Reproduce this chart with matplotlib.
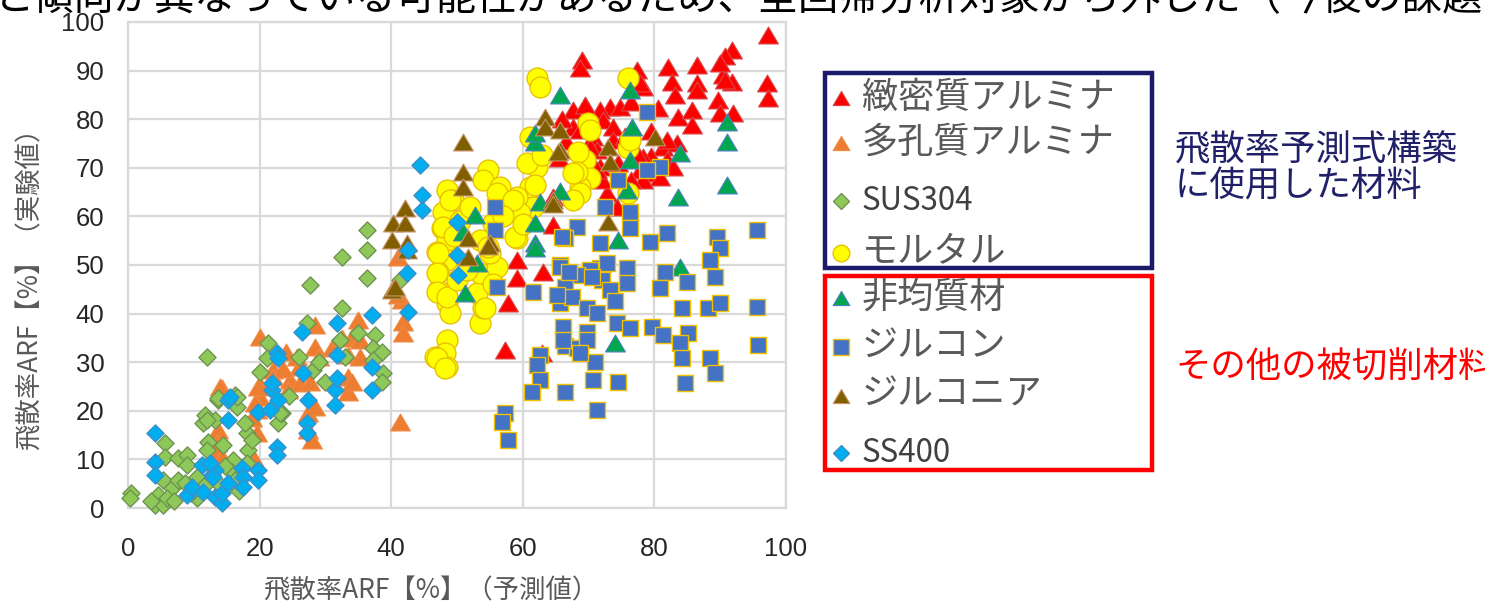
import matplotlib
matplotlib.use('Agg')
import matplotlib.pyplot as plt
from matplotlib.path import Path
from matplotlib.patches import Rectangle

plt.rcParams['font.family'] = ['Noto Sans CJK JP', 'DejaVu Sans']

# ---------------- data: (predicted ARF %, measured ARF %) ----------------
dense_alumina = [
    (97.3, 97.3), (91.8, 94.2), (90.7, 93.0), (90.4, 89.1), (91.8, 87.7), (97.1, 87.4), (97.3, 84.4),
    (86.5, 91.2), (86.5, 87.4), (86.5, 86.0), (82.1, 90.7), (82.7, 87.7), (83.1, 85.0), (83.6, 80.5),
    (85.7, 81.9), (85.7, 78.8), (89.7, 84.0), (90.0, 81.3), (91.9, 81.3), (90.0, 91.6), (90.7, 88.1),
    (69.0, 92.2), (68.7, 90.5), (77.4, 90.1), (78.3, 86.6), (77.8, 87.4), (80.5, 82.3),
    (73.3, 82.5), (71.7, 81.9), (67.6, 81.9), (67.6, 78.4), (74.8, 82.5), (76.5, 83.5), (69.5, 83.0),
    (81.3, 74.3), (83.4, 75.1), (81.9, 71.6), (79.5, 72.5), (78.3, 72.2), (77.8, 69.5), (82.9, 70.2),
    (81.9, 75.7), (72.2, 79.8), (73.7, 78.4), (70.7, 76.3), (68.7, 77.8), (71.3, 73.7), (71.7, 70.2),
    (77.4, 73.0), (73.7, 75.7), (78.9, 68.9), (80.9, 68.1), (78.3, 67.5), (72.8, 64.8), (74.3, 62.0),
    (64.6, 64.0), (66.0, 80.0), (75.5, 76.5), (74.5, 71.0), (70.0, 72.0), (65.5, 72.0), (76.5, 67.5),
    (79.5, 77.5), (72.0, 67.5), (69.0, 71.0), (66.5, 75.5), (70.2, 74.3), (71.3, 69.5),
    (59.1, 51.0), (59.1, 47.3), (63.1, 48.6), (57.8, 42.2), (57.3, 32.5), (64.6, 58.2), (62.9, 31.9),
]
porous_alumina = [
    (20.1, 35.2), (28.4, 37.7), (28.4, 33.1), (35.0, 38.7), (34.0, 35.2), (35.3, 34.6), (33.4, 31.5),
    (35.3, 31.1), (33.4, 27.0), (33.4, 23.9), (34.0, 25.9), (25.7, 31.1), (24.6, 26.3), (26.1, 25.7),
    (27.7, 25.9), (22.0, 28.4), (20.1, 25.3), (20.1, 22.8), (19.6, 20.2), (19.6, 15.4), (18.8, 18.5),
    (19.0, 10.5), (14.3, 24.7), (13.7, 16.0), (13.5, 13.4), (13.2, 11.9), (14.3, 10.5), (27.4, 19.5),
    (27.4, 16.0), (28.4, 20.8), (41.8, 38.3), (41.8, 36.0), (41.3, 17.7), (41.6, 42.8), (41.0, 51.6),
    (41.0, 43.8), (24.3, 24.3), (26.0, 29.0), (31.0, 33.0), (29.0, 31.0), (22.0, 27.0), (24.0, 32.0),
    (32.5, 35.0), (23.5, 28.5), (19.3, 21.6), (19.8, 24.9), (14.0, 24.9), (28.0, 14.0),
]
sus304 = [
    (0.4, 3.0), (0.3, 2.0), (5.6, 13.3), (5.6, 10.5), (7.6, 10.3), (9.0, 10.9), (9.0, 8.8), (5.3, 5.8),
    (4.6, 2.7), (4.1, 0.6), (5.3, 0.6), (6.7, 4.1), (7.6, 5.8), (8.7, 5.1), (10.5, 2.1), (10.5, 6.4),
    (13.7, 5.1), (11.4, 17.5), (11.7, 19.1), (12.2, 13.6), (13.2, 18.1), (13.7, 22.2), (16.3, 23.3),
    (16.6, 20.8), (16.0, 9.9), (15.8, 7.4), (16.3, 5.8), (18.2, 11.9), (18.1, 15.4), (17.8, 17.5),
    (18.8, 14.0), (22.8, 17.5), (23.4, 19.5), (12.0, 31.1), (27.7, 45.9), (32.5, 51.6), (36.3, 53.1),
    (36.3, 47.3), (36.3, 57.2), (32.5, 41.2), (21.3, 34.0), (21.1, 30.9), (32.2, 34.6), (37.5, 35.6),
    (37.2, 32.9), (38.6, 32.1), (38.8, 27.8), (38.6, 25.9), (28.1, 28.4), (27.2, 38.1), (16.6, 22.8),
    (13.7, 22.6), (12.0, 18.1), (18.1, 9.3), (23.1, 19.5), (41.3, 46.9), (6.0, 2.0), (7.0, 1.5),
    (3.5, 1.5), (12.0, 12.0), (14.5, 13.0), (26.0, 31.0), (29.0, 30.0), (35.0, 36.0), (20.0, 28.0),
    (9.5, 3.0), (11.5, 4.5), (14.8, 8.7), (16.8, 3.5), (24.5, 23.0), (30.0, 26.0), (33.0, 31.0),
    (37.2, 30.5),
]
mortar = [
    (62.2, 88.5), (62.6, 86.6), (76.0, 88.5),
    (54.7, 69.5), (54.0, 67.5), (56.5, 66.0), (48.5, 65.4), (49.4, 63.4), (47.9, 60.9), (47.7, 57.6),
    (48.5, 55.1), (47.0, 52.7), (48.5, 51.0), (47.1, 48.6), (47.1, 44.9), (48.5, 42.2), (48.9, 40.1),
    (48.5, 34.6), (48.2, 31.9), (46.7, 31.1), (48.5, 29.0), (53.5, 38.1), (54.0, 41.2), (53.0, 44.2),
    (53.5, 48.4), (56.1, 49.6), (55.0, 52.5), (53.5, 55.1), (59.1, 55.6), (59.6, 62.8), (60.6, 63.4),
    (61.1, 66.0), (62.2, 70.2), (60.6, 71.0), (62.9, 72.6), (61.6, 61.9),
    (69.9, 79.2), (70.2, 77.8), (76.0, 74.1), (69.5, 71.6), (68.4, 73.3), (70.2, 67.9), (68.7, 66.0),
    (68.2, 69.1), (61.9, 66.5), (76.0, 64.8), (61.1, 76.3), (76.3, 75.7),
    (67.6, 68.9), (68.7, 64.8), (67.6, 63.4), (59.1, 64.0), (58.1, 61.3), (59.6, 60.7), (56.1, 64.8),
    (58.5, 63.4), (58.8, 55.8), (55.5, 58.6), (54.7, 53.7), (48.9, 63.4), (47.9, 57.8), (47.1, 52.5),
    (47.0, 48.4), (47.0, 44.4), (48.5, 43.4), (54.3, 41.2), (47.0, 30.9), (48.2, 28.8), (50.5, 59.0),
    (50.0, 47.0), (49.5, 56.0), (52.0, 62.0), (51.5, 49.0), (57.0, 60.0), (60.0, 58.5), (55.5, 46.0),
]
heterogeneous = [
    (65.7, 85.0), (76.3, 86.0), (76.6, 78.4), (91.0, 79.4), (91.0, 75.3), (83.9, 73.0), (91.0, 66.5),
    (83.6, 64.0), (76.3, 71.6), (65.7, 65.2), (62.6, 63.0), (61.9, 75.3), (61.9, 77.2), (52.7, 60.3),
    (50.9, 56.8), (53.0, 50.4), (51.2, 44.2), (61.9, 58.6), (61.9, 54.5), (61.9, 53.5), (75.8, 65.4),
    (74.5, 55.1), (83.9, 49.6), (74.0, 34.0),
]
zircon = [
    (55.8, 61.9), (55.8, 57.2), (56.1, 45.5), (61.6, 44.4), (72.5, 61.9), (76.3, 60.9), (76.3, 57.6),
    (68.2, 57.8), (66.4, 55.6), (71.7, 54.5), (79.3, 54.7), (81.9, 56.6), (89.5, 55.8), (90.0, 53.5),
    (95.6, 57.2), (88.4, 51.0), (89.2, 47.5), (85.0, 46.5), (81.6, 48.6), (80.9, 45.3), (75.9, 49.4),
    (75.9, 46.3), (71.7, 49.4), (72.0, 46.9), (70.2, 49.0), (68.2, 47.9), (65.7, 50.0), (66.4, 45.5),
    (65.7, 42.2), (67.5, 43.4), (69.8, 41.2), (71.3, 40.1), (73.3, 44.9), (66.1, 37.2), (66.4, 33.3),
    (68.2, 32.9), (69.8, 36.2), (69.8, 34.6), (71.0, 30.0), (74.3, 38.1), (76.3, 37.0), (79.6, 37.2),
    (81.3, 35.6), (85.1, 36.0), (83.9, 34.0), (84.2, 30.9), (88.4, 30.9), (89.2, 27.8), (84.7, 25.7),
    (84.2, 41.2), (88.1, 41.2), (90.0, 42.2), (95.6, 41.4), (95.7, 33.5), (62.6, 31.5), (62.2, 29.4),
    (62.6, 26.3), (61.4, 23.9), (66.4, 23.9), (70.7, 26.3), (74.5, 25.9), (71.3, 20.2), (57.3, 19.5),
    (56.8, 17.7), (57.8, 14.0), (65.2, 43.8), (72.8, 50.4), (68.7, 31.9), (78.9, 81.5), (80.9, 70.2),
    (78.9, 69.5), (74.5, 67.5), (66.1, 34.6), (66.0, 55.8), (65.7, 49.6), (67.0, 48.5), (70.5, 47.5),
    (74.0, 42.5),
]
zirconia = [
    (40.1, 55.1), (40.1, 44.9), (42.4, 54.5), (50.9, 75.3), (50.9, 69.1), (50.9, 66.0), (42.1, 61.7),
    (40.3, 58.6), (42.1, 58.6), (51.7, 55.5), (51.7, 51.6), (55.0, 54.5), (64.6, 63.4), (65.7, 73.7),
    (63.4, 80.5), (63.4, 78.4), (65.7, 77.8), (72.9, 74.3), (73.3, 71.2), (80.1, 76.3), (72.9, 58.8),
    (54.7, 54.0), (64.6, 62.5), (40.6, 45.5), (65.3, 73.2), (42.4, 53.0),
]
ss400 = [
    (4.1, 15.4), (4.1, 9.5), (4.1, 6.8), (9.0, 2.7), (9.7, 4.3), (11.2, 8.8), (11.4, 3.3), (12.8, 6.8),
    (13.2, 7.8), (13.2, 2.3), (14.3, 1.0), (14.3, 3.1), (15.2, 5.1), (15.2, 18.1), (15.2, 22.2),
    (17.3, 8.2), (17.5, 6.4), (17.5, 4.3), (19.8, 7.8), (19.8, 5.8), (19.8, 19.8), (21.6, 20.2),
    (22.6, 12.6), (22.6, 10.9), (21.9, 24.3), (22.8, 22.2), (27.4, 22.2), (27.2, 17.5), (27.2, 15.4),
    (31.5, 24.3), (31.5, 21.2), (37.1, 39.7), (31.8, 38.1), (26.4, 36.2), (22.6, 31.9), (22.8, 30.9),
    (31.8, 31.5), (37.1, 29.0), (37.1, 24.3), (31.8, 26.7), (26.6, 27.8), (21.9, 25.7), (15.5, 22.8),
    (42.6, 53.1), (42.4, 48.4), (42.6, 40.3), (44.4, 70.6), (44.7, 64.4), (44.7, 61.3), (50.0, 58.8),
    (50.0, 52.0), (50.2, 47.9), (12.5, 9.3), (12.9, 6.4),
]

labels = ['緻密質アルミナ', '多孔質アルミナ', 'SUS304', 'モルタル',
          '非均質材', 'ジルコン', 'ジルコニア', 'SS400']
x_ticks = [0, 20, 40, 60, 80, 100]
y_ticks = [0, 10, 20, 30, 40, 50, 60, 70, 80, 90, 100]

# ---------------- styles ----------------
TRI = Path([(0, 0.85), (-1, -0.85), (1, -0.85), (0, 0.85)],
           [Path.MOVETO, Path.LINETO, Path.LINETO, Path.CLOSEPOLY])

styles = [
    # marker, size(pt^2), face, edge, edge width, legend size
    (TRI, 205, '#FF0000', '#D84848', 0.8, 12),
    (TRI, 205, '#ED7D31', '#F08A45', 0.8, 12),
    ('D', 76, '#8DC859', '#6F9451', 1.0, 8.5),
    ('o', 225, '#FFFF00', '#E8C100', 1.0, 12),
    (TRI, 205, '#00A650', '#4F81BD', 0.8, 12),
    ('s', 135, '#4472C4', '#F2C200', 1.0, 11),
    (TRI, 205, '#7F5F00', '#C8956A', 0.8, 12),
    ('D', 76, '#00AEEF', '#3D8FC8', 1.0, 8.5),
]
series = [dense_alumina, porous_alumina, sus304, mortar,
          heterogeneous, zircon, zirconia, ss400]

W, H = 1485, 604
fig = plt.figure(figsize=(W / 100, H / 100), dpi=100)
ax = fig.add_axes([128 / W, 1 - 508 / H, 658 / W, 486 / H])

for i, (pts, st) in enumerate(zip(series, styles)):
    m, s, fc, ec, lw, _ = st
    xs = [p[0] for p in pts]
    ys = [p[1] for p in pts]
    ax.scatter(xs, ys, marker=m, s=s, facecolor=fc, edgecolor=ec,
               linewidths=lw, zorder=3 + i, clip_on=False)

ax.set_xlim(0, 100)
ax.set_ylim(0, 100)
ax.set_xticks(x_ticks)
ax.set_yticks(y_ticks)
ax.grid(True, color='#D9D9D9', linewidth=1.6, zorder=0)
ax.set_axisbelow(True)
for sp in ax.spines.values():
    sp.set_color('#D9D9D9')
    sp.set_linewidth(1.6)
ax.tick_params(length=0, labelsize=18.5, labelcolor='#262626')
ax.tick_params(axis='y', pad=17)
ax.tick_params(axis='x', pad=21)
for lab in ax.get_xticklabels() + ax.get_yticklabels():
    lab.set_family(['Liberation Sans', 'DejaVu Sans'])

# ---------------- overlay in pixel coordinates ----------------
ov = fig.add_axes([0, 0, 1, 1], zorder=20)
ov.set_xlim(0, W)
ov.set_ylim(H, 0)
ov.axis('off')
ov.patch.set_alpha(0)

ov.text(-6, -1, 'と傾向が異なっている可能性があるため、全回帰分析対象から外した（今後の課題',
        fontsize=29, color='black', ha='left', va='center')

ov.text(431, 591, '飛散率ARF【%】（予測値）', fontsize=19, color='#595959',
        ha='center', va='center')
ov.text(30, 282, '飛散率ARF【%】（実験値）', fontsize=19, color='#595959',
        ha='center', va='center', rotation=90)

# legend boxes
ov.add_patch(Rectangle((825, 73), 327, 195, fill=False, edgecolor='#1A1A6A', linewidth=3.2))
ov.add_patch(Rectangle((825, 276), 327, 194, fill=False, edgecolor='#FF0000', linewidth=3.2))

key_y = [98, 143, 201, 253, 298, 347, 396, 453]
text_y = [98, 143, 201, 251, 298, 346, 395, 453]
for lab, st, ky, ty in zip(labels, styles, key_y, text_y):
    m, s, fc, ec, lw, ms = st
    ov.plot([841], [ky], marker=m, markersize=ms, markerfacecolor=fc,
            markeredgecolor=ec, markeredgewidth=lw, linestyle='none')
    latin = lab.startswith('S')
    ov.text(862, ty, lab, fontsize=22.5 if latin else 26,
            color='#404040' if latin else '#595959', ha='left', va='center')

ov.text(1175, 150, '飛散率予測式構築', fontsize=25.5, color='#1F2068', ha='left', va='center')
ov.text(1175, 186, 'に使用した材料', fontsize=25.5, color='#1F2068', ha='left', va='center')
ov.text(1175, 368, 'その他の被切削材料', fontsize=25.5, color='#FF0000', ha='left', va='center')

fig.savefig('out.png', dpi=100)
